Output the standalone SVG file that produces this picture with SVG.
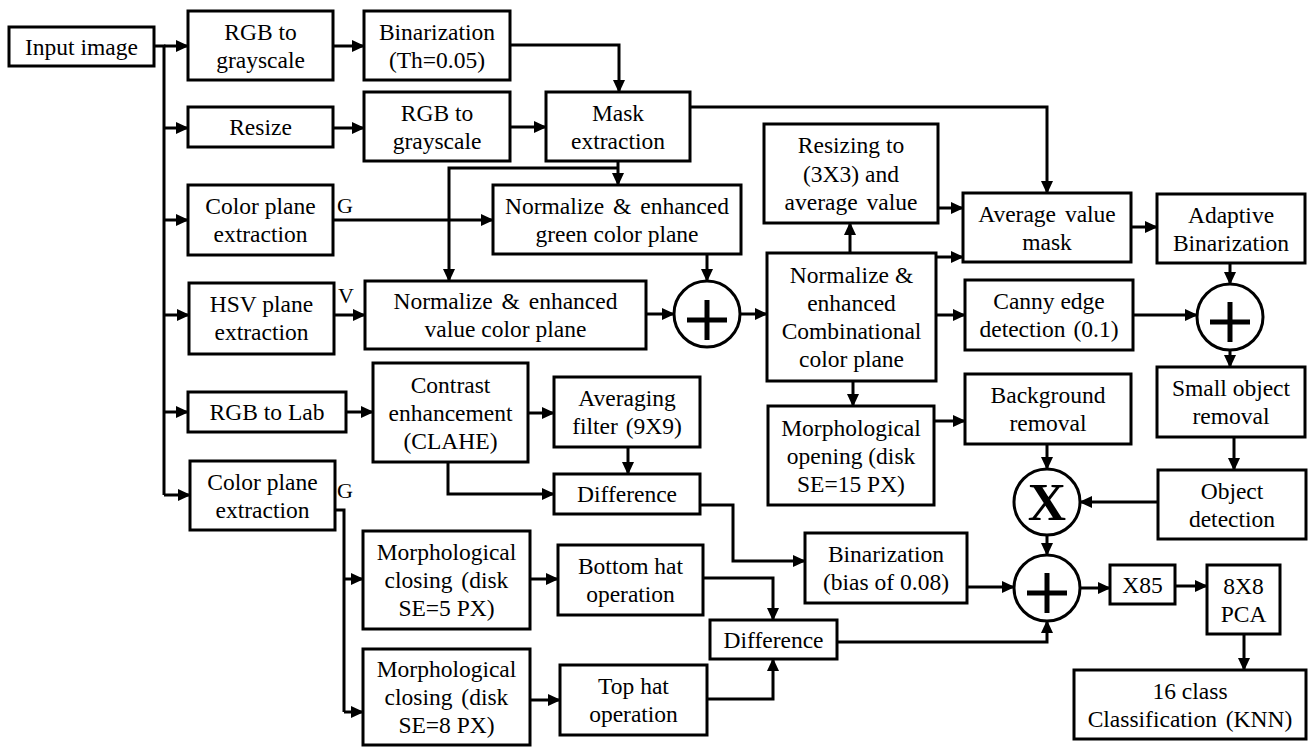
<svg xmlns="http://www.w3.org/2000/svg" width="1312" height="747" viewBox="0 0 1312 747">
<defs>
<marker id="ah" viewBox="0 0 13 12" refX="12" refY="6" markerWidth="13" markerHeight="12" markerUnits="userSpaceOnUse" orient="auto"><path d="M0,0 L13,6 L0,12 z" fill="#000" stroke="none"/></marker>
</defs>
<rect width="1312" height="747" fill="#fff"/>

<g id="nodes" fill="#fff" stroke="#000" stroke-width="3">
<g id="n-input"><rect x="9" y="27" width="145" height="39"/><text style="font-family:'Liberation Serif',serif;font-size:23.5px;fill:#000;stroke:none;text-anchor:middle" x="81.5" y="54.5">Input image</text></g>
<g id="n-rgb2gray1"><rect x="188" y="11" width="145" height="69"/><text style="font-family:'Liberation Serif',serif;font-size:23.5px;fill:#000;stroke:none;text-anchor:middle" x="260.5" y="40">RGB to</text><text style="font-family:'Liberation Serif',serif;font-size:23.5px;fill:#000;stroke:none;text-anchor:middle" x="260.5" y="68">grayscale</text></g>
<g id="n-binar1"><rect x="364" y="11" width="146" height="69"/><text style="font-family:'Liberation Serif',serif;font-size:23.5px;fill:#000;stroke:none;text-anchor:middle" x="437" y="40">Binarization</text><text style="font-family:'Liberation Serif',serif;font-size:23.5px;fill:#000;stroke:none;text-anchor:middle" x="437" y="68">(Th=0.05)</text></g>
<g id="n-resize"><rect x="188" y="107" width="145" height="40"/><text style="font-family:'Liberation Serif',serif;font-size:23.5px;fill:#000;stroke:none;text-anchor:middle" x="260.5" y="135">Resize</text></g>
<g id="n-rgb2gray2"><rect x="364" y="92" width="146" height="69"/><text style="font-family:'Liberation Serif',serif;font-size:23.5px;fill:#000;stroke:none;text-anchor:middle" x="437" y="121">RGB to</text><text style="font-family:'Liberation Serif',serif;font-size:23.5px;fill:#000;stroke:none;text-anchor:middle" x="437" y="149">grayscale</text></g>
<g id="n-mask"><rect x="546" y="92" width="144" height="69"/><text style="font-family:'Liberation Serif',serif;font-size:23.5px;fill:#000;stroke:none;text-anchor:middle" x="618" y="121">Mask</text><text style="font-family:'Liberation Serif',serif;font-size:23.5px;fill:#000;stroke:none;text-anchor:middle" x="618" y="149">extraction</text></g>
<g id="n-cpe1"><rect x="188" y="185" width="145" height="70"/><text style="font-family:'Liberation Serif',serif;font-size:23.5px;fill:#000;stroke:none;text-anchor:middle" x="260.5" y="214">Color plane</text><text style="font-family:'Liberation Serif',serif;font-size:23.5px;fill:#000;stroke:none;text-anchor:middle" x="260.5" y="242">extraction</text><text style="font-family:'Liberation Serif',serif;font-size:22px;fill:#000;stroke:none" x="337" y="213">G</text></g>
<g id="n-hsv"><rect x="189" y="283" width="145" height="71"/><text style="font-family:'Liberation Serif',serif;font-size:23.5px;fill:#000;stroke:none;text-anchor:middle" x="261.5" y="312">HSV plane</text><text style="font-family:'Liberation Serif',serif;font-size:23.5px;fill:#000;stroke:none;text-anchor:middle" x="261.5" y="340">extraction</text><text style="font-family:'Liberation Serif',serif;font-size:22px;fill:#000;stroke:none" x="338" y="303">V</text></g>
<g id="n-normgreen"><rect x="493" y="185" width="248" height="69"/><text style="font-family:'Liberation Serif',serif;font-size:23.5px;fill:#000;stroke:none;text-anchor:middle;word-spacing:3px" x="617" y="214">Normalize &amp; enhanced</text><text style="font-family:'Liberation Serif',serif;font-size:23.5px;fill:#000;stroke:none;text-anchor:middle" x="617" y="242">green color plane</text></g>
<g id="n-normvalue"><rect x="365" y="281" width="281" height="68"/><text style="font-family:'Liberation Serif',serif;font-size:23.5px;fill:#000;stroke:none;text-anchor:middle;word-spacing:3px" x="505.5" y="309">Normalize &amp; enhanced</text><text style="font-family:'Liberation Serif',serif;font-size:23.5px;fill:#000;stroke:none;text-anchor:middle" x="505.5" y="337">value color plane</text></g>
<g id="n-plus1"><circle cx="707" cy="314" r="33"/><line stroke-width="5" x1="687" y1="320" x2="727" y2="320"/><line stroke-width="5" x1="707" y1="300" x2="707" y2="340"/></g>
<g id="n-comb"><rect x="767" y="253" width="169" height="128"/><text style="font-family:'Liberation Serif',serif;font-size:23.5px;fill:#000;stroke:none;text-anchor:middle" x="851.5" y="283">Normalize &amp;</text><text style="font-family:'Liberation Serif',serif;font-size:23.5px;fill:#000;stroke:none;text-anchor:middle" x="851.5" y="311">enhanced</text><text style="font-family:'Liberation Serif',serif;font-size:23.5px;fill:#000;stroke:none;text-anchor:middle" x="851.5" y="339">Combinational</text><text style="font-family:'Liberation Serif',serif;font-size:23.5px;fill:#000;stroke:none;text-anchor:middle" x="851.5" y="367">color plane</text></g>
<g id="n-resizing"><rect x="764" y="124" width="174" height="99"/><text style="font-family:'Liberation Serif',serif;font-size:23.5px;fill:#000;stroke:none;text-anchor:middle" x="851" y="153">Resizing to</text><text style="font-family:'Liberation Serif',serif;font-size:23.5px;fill:#000;stroke:none;text-anchor:middle" x="851" y="181.5">(3X3) and</text><text style="font-family:'Liberation Serif',serif;font-size:23.5px;fill:#000;stroke:none;text-anchor:middle;word-spacing:3px" x="851" y="210">average value</text></g>
<g id="n-avgmask"><rect x="963" y="193" width="168" height="69"/><text style="font-family:'Liberation Serif',serif;font-size:23.5px;fill:#000;stroke:none;text-anchor:middle;word-spacing:3px" x="1047" y="222">Average value</text><text style="font-family:'Liberation Serif',serif;font-size:23.5px;fill:#000;stroke:none;text-anchor:middle" x="1047" y="250">mask</text></g>
<g id="n-adaptbin"><rect x="1157" y="194" width="148" height="69"/><text style="font-family:'Liberation Serif',serif;font-size:23.5px;fill:#000;stroke:none;text-anchor:middle" x="1231" y="223">Adaptive</text><text style="font-family:'Liberation Serif',serif;font-size:23.5px;fill:#000;stroke:none;text-anchor:middle" x="1231" y="251">Binarization</text></g>
<g id="n-canny"><rect x="965" y="280" width="168" height="70"/><text style="font-family:'Liberation Serif',serif;font-size:23.5px;fill:#000;stroke:none;text-anchor:middle" x="1049" y="309">Canny edge</text><text style="font-family:'Liberation Serif',serif;font-size:23.5px;fill:#000;stroke:none;text-anchor:middle;word-spacing:2px" x="1049" y="337">detection (0.1)</text></g>
<g id="n-plus2"><circle cx="1230" cy="317" r="33"/><line stroke-width="5" x1="1210" y1="322" x2="1250" y2="322"/><line stroke-width="5" x1="1230" y1="302" x2="1230" y2="342"/></g>
<g id="n-smallobj"><rect x="1157" y="367" width="148" height="70"/><text style="font-family:'Liberation Serif',serif;font-size:23.5px;fill:#000;stroke:none;text-anchor:middle" x="1231" y="396">Small object</text><text style="font-family:'Liberation Serif',serif;font-size:23.5px;fill:#000;stroke:none;text-anchor:middle" x="1231" y="424">removal</text></g>
<g id="n-objdet"><rect x="1158" y="470" width="148" height="69"/><text style="font-family:'Liberation Serif',serif;font-size:23.5px;fill:#000;stroke:none;text-anchor:middle" x="1232" y="499">Object</text><text style="font-family:'Liberation Serif',serif;font-size:23.5px;fill:#000;stroke:none;text-anchor:middle" x="1232" y="527">detection</text></g>
<g id="n-xmul"><circle cx="1047" cy="502" r="33"/><text style="font-family:'Liberation Serif',serif;font-size:53px;font-weight:bold;fill:#000;stroke:none;text-anchor:middle" x="1047" y="520">X</text></g>
<g id="n-bgrem"><rect x="965" y="374" width="166" height="70"/><text style="font-family:'Liberation Serif',serif;font-size:23.5px;fill:#000;stroke:none;text-anchor:middle" x="1048" y="403">Background</text><text style="font-family:'Liberation Serif',serif;font-size:23.5px;fill:#000;stroke:none;text-anchor:middle" x="1048" y="431">removal</text></g>
<g id="n-morphopen"><rect x="768" y="406" width="166" height="99"/><text style="font-family:'Liberation Serif',serif;font-size:23.5px;fill:#000;stroke:none;text-anchor:middle" x="851" y="435.5">Morphological</text><text style="font-family:'Liberation Serif',serif;font-size:23.5px;fill:#000;stroke:none;text-anchor:middle" x="851" y="463.5">opening (disk</text><text style="font-family:'Liberation Serif',serif;font-size:23.5px;fill:#000;stroke:none;text-anchor:middle" x="851" y="491.5">SE=15 PX)</text></g>
<g id="n-rgb2lab"><rect x="188" y="392" width="158" height="40"/><text style="font-family:'Liberation Serif',serif;font-size:23.5px;fill:#000;stroke:none;text-anchor:middle" x="267" y="420">RGB to Lab</text></g>
<g id="n-clahe"><rect x="373" y="363" width="155" height="99"/><text style="font-family:'Liberation Serif',serif;font-size:23.5px;fill:#000;stroke:none;text-anchor:middle" x="450.5" y="392.5">Contrast</text><text style="font-family:'Liberation Serif',serif;font-size:23.5px;fill:#000;stroke:none;text-anchor:middle" x="450.5" y="420.5">enhancement</text><text style="font-family:'Liberation Serif',serif;font-size:23.5px;fill:#000;stroke:none;text-anchor:middle" x="450.5" y="448.5">(CLAHE)</text></g>
<g id="n-avgfilter"><rect x="554" y="377" width="146" height="70"/><text style="font-family:'Liberation Serif',serif;font-size:23.5px;fill:#000;stroke:none;text-anchor:middle" x="627" y="406">Averaging</text><text style="font-family:'Liberation Serif',serif;font-size:23.5px;fill:#000;stroke:none;text-anchor:middle;word-spacing:2px" x="627" y="434">filter (9X9)</text></g>
<g id="n-diff1"><rect x="554" y="474" width="146" height="40"/><text style="font-family:'Liberation Serif',serif;font-size:23.5px;fill:#000;stroke:none;text-anchor:middle" x="627" y="502">Difference</text></g>
<g id="n-cpe2"><rect x="190" y="461" width="145" height="69"/><text style="font-family:'Liberation Serif',serif;font-size:23.5px;fill:#000;stroke:none;text-anchor:middle" x="262.5" y="490">Color plane</text><text style="font-family:'Liberation Serif',serif;font-size:23.5px;fill:#000;stroke:none;text-anchor:middle" x="262.5" y="518">extraction</text><text style="font-family:'Liberation Serif',serif;font-size:22px;fill:#000;stroke:none" x="337" y="498">G</text></g>
<g id="n-mc1"><rect x="363" y="531" width="167" height="98"/><text style="font-family:'Liberation Serif',serif;font-size:23.5px;fill:#000;stroke:none;text-anchor:middle" x="446.5" y="560">Morphological</text><text style="font-family:'Liberation Serif',serif;font-size:23.5px;fill:#000;stroke:none;text-anchor:middle;word-spacing:3px" x="446.5" y="588">closing (disk</text><text style="font-family:'Liberation Serif',serif;font-size:23.5px;fill:#000;stroke:none;text-anchor:middle" x="446.5" y="616">SE=5 PX)</text></g>
<g id="n-mc2"><rect x="363" y="649" width="167" height="96"/><text style="font-family:'Liberation Serif',serif;font-size:23.5px;fill:#000;stroke:none;text-anchor:middle" x="446.5" y="677">Morphological</text><text style="font-family:'Liberation Serif',serif;font-size:23.5px;fill:#000;stroke:none;text-anchor:middle;word-spacing:3px" x="446.5" y="705">closing (disk</text><text style="font-family:'Liberation Serif',serif;font-size:23.5px;fill:#000;stroke:none;text-anchor:middle" x="446.5" y="733">SE=8 PX)</text></g>
<g id="n-bottomhat"><rect x="558" y="545" width="145" height="70"/><text style="font-family:'Liberation Serif',serif;font-size:23.5px;fill:#000;stroke:none;text-anchor:middle" x="630.5" y="574">Bottom hat</text><text style="font-family:'Liberation Serif',serif;font-size:23.5px;fill:#000;stroke:none;text-anchor:middle" x="630.5" y="602">operation</text></g>
<g id="n-tophat"><rect x="560" y="665" width="147" height="70"/><text style="font-family:'Liberation Serif',serif;font-size:23.5px;fill:#000;stroke:none;text-anchor:middle" x="633.5" y="694">Top hat</text><text style="font-family:'Liberation Serif',serif;font-size:23.5px;fill:#000;stroke:none;text-anchor:middle" x="633.5" y="722">operation</text></g>
<g id="n-diff2"><rect x="710" y="620" width="127" height="39"/><text style="font-family:'Liberation Serif',serif;font-size:23.5px;fill:#000;stroke:none;text-anchor:middle" x="773.5" y="647.5">Difference</text></g>
<g id="n-binbias"><rect x="805" y="533" width="162" height="70"/><text style="font-family:'Liberation Serif',serif;font-size:23.5px;fill:#000;stroke:none;text-anchor:middle" x="886" y="562">Binarization</text><text style="font-family:'Liberation Serif',serif;font-size:23.5px;fill:#000;stroke:none;text-anchor:middle" x="886" y="590">(bias of 0.08)</text></g>
<g id="n-plus3"><circle cx="1047" cy="588" r="33"/><line stroke-width="5" x1="1027" y1="593" x2="1067" y2="593"/><line stroke-width="5" x1="1047" y1="573" x2="1047" y2="613"/></g>
<g id="n-x85"><rect x="1110" y="565" width="65" height="39"/><text style="font-family:'Liberation Serif',serif;font-size:23.5px;fill:#000;stroke:none;text-anchor:middle" x="1142.5" y="592.5">X85</text></g>
<g id="n-pca"><rect x="1207" y="565" width="73" height="69"/><text style="font-family:'Liberation Serif',serif;font-size:23.5px;fill:#000;stroke:none;text-anchor:middle" x="1243.5" y="594">8X8</text><text style="font-family:'Liberation Serif',serif;font-size:23.5px;fill:#000;stroke:none;text-anchor:middle" x="1243.5" y="622">PCA</text></g>
<g id="n-knn"><rect x="1074" y="670" width="232" height="69"/><text style="font-family:'Liberation Serif',serif;font-size:23.5px;fill:#000;stroke:none;text-anchor:middle" x="1190" y="699">16 class</text><text style="font-family:'Liberation Serif',serif;font-size:23.5px;fill:#000;stroke:none;text-anchor:middle;word-spacing:3px" x="1190" y="727">Classification (KNN)</text></g>
</g>

<g id="connectors" fill="none" stroke="#000" stroke-width="3">
<path d="M154,46 H164 V495"/>
<path marker-end="url(#ah)" d="M164,46 H188"/>
<path marker-end="url(#ah)" d="M164,128 H188"/>
<path marker-end="url(#ah)" d="M164,220 H188"/>
<path marker-end="url(#ah)" d="M164,315 H189"/>
<path marker-end="url(#ah)" d="M164,412 H188"/>
<path marker-end="url(#ah)" d="M164,495 H190"/>
<path marker-end="url(#ah)" d="M333,46 H364"/>
<path marker-end="url(#ah)" d="M510,45 H619 V92"/>
<path marker-end="url(#ah)" d="M333,128 H364"/>
<path marker-end="url(#ah)" d="M510,127 H546"/>
<path marker-end="url(#ah)" d="M690,107 H1047 V193"/>
<path marker-end="url(#ah)" d="M618,161 V185"/>
<path marker-end="url(#ah)" d="M618,168 H449 V281"/>
<path marker-end="url(#ah)" d="M333,220 H493"/>
<path marker-end="url(#ah)" d="M334,315 H365"/>
<path marker-end="url(#ah)" d="M707,254 V281"/>
<path marker-end="url(#ah)" d="M646,314 H674"/>
<path marker-end="url(#ah)" d="M740,314 H767"/>
<path marker-end="url(#ah)" d="M850,253 V223"/>
<path marker-end="url(#ah)" d="M938,208 H963"/>
<path marker-end="url(#ah)" d="M936,257 H963"/>
<path marker-end="url(#ah)" d="M936,315 H965"/>
<path marker-end="url(#ah)" d="M1131,227 H1157"/>
<path marker-end="url(#ah)" d="M1230,263 V284"/>
<path marker-end="url(#ah)" d="M1133,315 H1197"/>
<path marker-end="url(#ah)" d="M1230,350 V367"/>
<path marker-end="url(#ah)" d="M1234,437 V470"/>
<path marker-end="url(#ah)" d="M1158,502 H1080"/>
<path marker-end="url(#ah)" d="M853,381 V406"/>
<path marker-end="url(#ah)" d="M934,421 H965"/>
<path marker-end="url(#ah)" d="M1047,444 V469"/>
<path marker-end="url(#ah)" d="M1047,535 V555"/>
<path marker-end="url(#ah)" d="M346,412 H373"/>
<path marker-end="url(#ah)" d="M528,413 H554"/>
<path marker-end="url(#ah)" d="M628,447 V474"/>
<path marker-end="url(#ah)" d="M448,462 V494 H554"/>
<path marker-end="url(#ah)" d="M700,505 H733 V561 H805"/>
<path d="M335,510 H344 V712"/>
<path marker-end="url(#ah)" d="M344,579 H363"/>
<path marker-end="url(#ah)" d="M344,712 H363"/>
<path marker-end="url(#ah)" d="M530,579 H558"/>
<path marker-end="url(#ah)" d="M530,700 H560"/>
<path marker-end="url(#ah)" d="M703,578 H773 V620"/>
<path marker-end="url(#ah)" d="M707,699 H773 V659"/>
<path marker-end="url(#ah)" d="M837,642 H1047 V621"/>
<path marker-end="url(#ah)" d="M967,587 H1014"/>
<path marker-end="url(#ah)" d="M1080,588 H1110"/>
<path marker-end="url(#ah)" d="M1175,586 H1207"/>
<path marker-end="url(#ah)" d="M1244,634 V670"/>
</g>
</svg>
